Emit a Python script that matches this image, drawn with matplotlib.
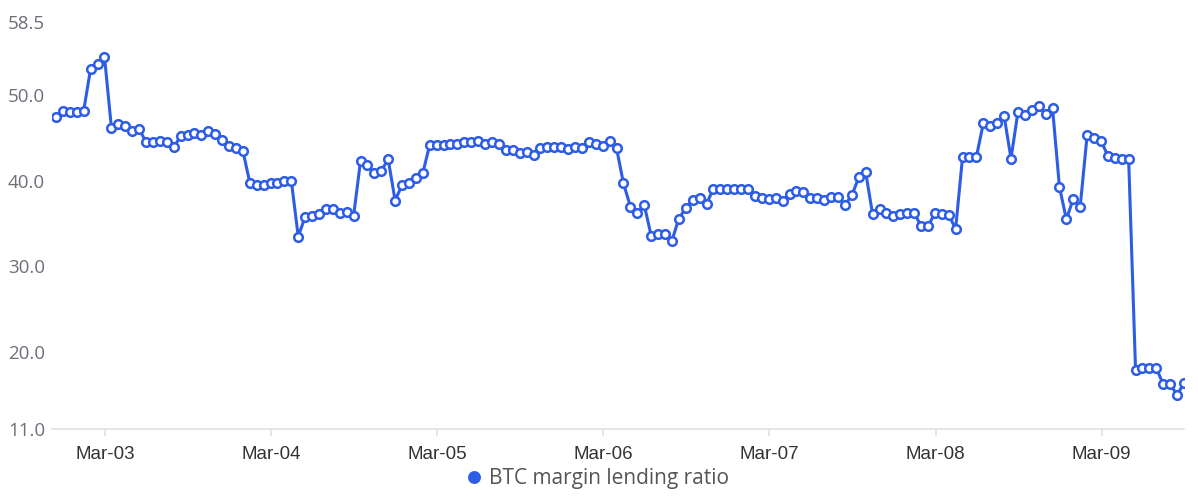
import numpy as np
import pandas as pd
import matplotlib
matplotlib.use("Agg")
import matplotlib.pyplot as plt
import matplotlib.dates as mdates

# hourly readings, first one at Mar-02 16:54
start = pd.Timestamp("2024-03-02 16:54")
ratio = [
    47.4, 48.2, 48.0, 48.0, 48.2, 53.1, 53.6, 54.5, 46.2, 46.6,
    46.4, 45.8, 46.1, 44.5, 44.5, 44.7, 44.5, 43.9, 45.2, 45.4,
    45.6, 45.4, 45.8, 45.5, 44.8, 44.1, 43.8, 43.5, 39.8, 39.5,
    39.5, 39.7, 39.7, 40.0, 40.0, 33.5, 35.8, 35.9, 36.1, 36.7,
    36.7, 36.2, 36.4, 35.9, 42.3, 41.8, 40.9, 41.2, 42.5, 37.7,
    39.5, 39.7, 40.3, 40.9, 44.2, 44.2, 44.2, 44.3, 44.3, 44.5,
    44.5, 44.6, 44.3, 44.5, 44.3, 43.6, 43.6, 43.2, 43.4, 43.0,
    43.8, 44.0, 43.9, 44.0, 43.7, 44.0, 43.8, 44.5, 44.3, 44.1,
    44.6, 43.8, 39.7, 37.0, 36.2, 37.2, 33.6, 33.8, 33.8, 33.0,
    35.6, 36.8, 37.8, 38.0, 37.3, 39.1, 39.1, 39.1, 39.0, 39.0,
    39.1, 38.2, 38.0, 37.9, 38.0, 37.7, 38.5, 38.8, 38.7, 38.0,
    38.0, 37.8, 38.1, 38.1, 37.2, 38.3, 40.4, 41.0, 36.1, 36.7,
    36.2, 35.9, 36.1, 36.3, 36.3, 34.7, 34.7, 36.2, 36.1, 36.0,
    34.4, 42.8, 42.8, 42.8, 46.7, 46.4, 46.8, 47.6, 42.6, 48.0,
    47.7, 48.3, 48.7, 47.8, 48.5, 39.3, 35.5, 37.9, 37.0, 45.3,
    45.0, 44.7, 42.9, 42.7, 42.6, 42.6, 17.9, 18.1, 18.1, 18.1,
    16.3, 16.3, 15.0, 16.4,
]
times = pd.date_range(start, periods=len(ratio), freq="h")
y_ticks = [11.0, 20.0, 30.0, 40.0, 50.0, 58.5]
day_ticks = pd.date_range("2024-03-03", "2024-03-09", freq="D")

blue = "#2d5ce5"

fig = plt.figure(figsize=(11.98, 5.03), dpi=100)
ax = fig.add_axes([0.0434, 0.1465, 0.9452, 0.8092])

ax.plot(times, ratio, color=blue, linewidth=2.2, marker="o", markersize=6.2,
        markerfacecolor="white", markeredgecolor=blue, markeredgewidth=1.8,
        label="BTC margin lending ratio", zorder=3)

ax.set_ylim(11.0, 58.5)
ax.set_yticks(y_ticks)
ax.set_yticklabels([f"{v:.1f}" for v in y_ticks], family="Open Sans",
                   fontsize=13.5, color="#6e7079")
ax.set_xlim(start - pd.Timedelta(minutes=35), times[-1] + pd.Timedelta(minutes=3))
ax.set_xticks(day_ticks)
ax.xaxis.set_major_formatter(mdates.DateFormatter("%b-%d"))
for lbl in ax.get_xticklabels():
    lbl.set_family("Liberation Sans")
    lbl.set_fontsize(13.5)
    lbl.set_color("#333333")

for side in ["top", "right", "left"]:
    ax.spines[side].set_visible(False)
ax.spines["bottom"].set_color("#e0e0e6")
ax.spines["bottom"].set_linewidth(1.2)
ax.tick_params(axis="y", length=0, pad=5)
ax.tick_params(axis="x", length=5, color="#e0e0e6", width=1.2, pad=7)

leg = fig.legend(loc="center", bbox_to_anchor=(0.5, 0.048), frameon=False,
                 handlelength=0.5, handletextpad=0.5,
                 prop={"family": "Open Sans", "size": 15})
h = leg.legend_handles[0]
h.set_linestyle("none")
h.set_marker("o")
h.set_markersize(7.5)
h.set_markerfacecolor(blue)
h.set_markeredgecolor(blue)
for t in leg.get_texts():
    t.set_color("#555555")

fig.savefig("out.png", dpi=100)
